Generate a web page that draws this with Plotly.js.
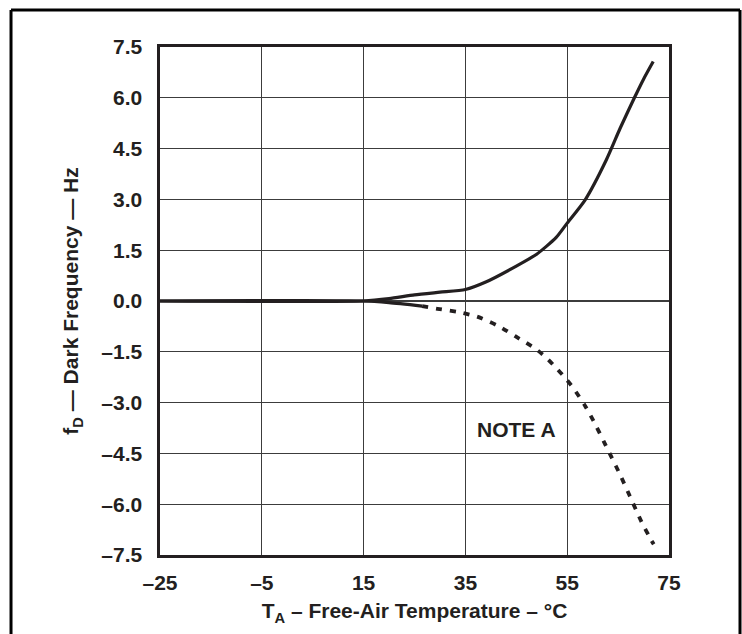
<!DOCTYPE html>
<html>
<head>
<meta charset="utf-8">
<script src="https://cdn.plot.ly/plotly-3.0.1.min.js"></script>
<style>
  html, body { margin: 0; padding: 0; background: #ffffff; }
  #chart { width: 742px; height: 634px; }
</style>
</head>
<body>
<div id="chart"></div>
<script>
// Temperature (°C) and dark frequency (Hz)
const tempUpper = [-25, 15, 20, 25, 30, 35, 39, 45, 49, 52.8, 55, 58.5, 62.7, 65.4, 68.2, 70, 71.9];
const fdUpper   = [0, 0, 0.07, 0.18, 0.26, 0.34, 0.56, 1.03, 1.38, 1.87, 2.3, 2.98, 4.17, 5.1, 6.0, 6.55, 7.07];

const tempLowerSolid = [-25, 15, 20, 26.5];
const fdLowerSolid   = [0, 0, -0.05, -0.15];

const tempLowerDash = [26.5, 29.5, 33.7, 37.3, 41.5, 44.8, 48.7, 50.7, 52.6, 54.6, 56.2, 58.5, 60.2, 62.2, 63.8, 65.4, 67.3, 69.6, 71.5, 72];
const fdLowerDash   = [-0.15, -0.23, -0.33, -0.46, -0.74, -1.04, -1.40, -1.65, -1.94, -2.27, -2.57, -3.09, -3.55, -4.15, -4.64, -5.13, -5.76, -6.52, -7.06, -7.18];

const xTickVals = [-25, -5, 15, 35, 55, 75];
const xTickText = ['–25', '–5', '15', '35', '55', '75'];
const yTickVals = [7.5, 6.0, 4.5, 3.0, 1.5, 0.0, -1.5, -3.0, -4.5, -6.0, -7.5];
const yTickText = ['7.5', '6.0', '4.5', '3.0', '1.5', '0.0', '–1.5', '–3.0', '–4.5', '–6.0', '–7.5'];

const noteText = 'NOTE A';
const noteX = 45;
const noteY = -3.78;

const ink = '#231f20';
const fontFam = '"Liberation Sans", Arial, Helvetica, sans-serif';

const traces = [
  { x: tempLowerSolid, y: fdLowerSolid, mode: 'lines', line: { color: ink, width: 3.2, shape: 'spline', smoothing: 0.6 }, hoverinfo: 'skip' },
  { x: tempLowerDash, y: fdLowerDash, mode: 'lines', line: { color: ink, width: 3.8, dash: '6px,8px', shape: 'spline', smoothing: 0.6 }, hoverinfo: 'skip' },
  { x: tempUpper, y: fdUpper, mode: 'lines', line: { color: ink, width: 3.2, shape: 'spline', smoothing: 0.6 }, hoverinfo: 'skip' }
];

const axisCommon = {
  showgrid: true, gridcolor: '#3c3c3c', gridwidth: 1.2,
  showline: true, mirror: true, linecolor: ink, linewidth: 2.6,
  zeroline: false, fixedrange: true,
  ticks: 'outside', tickcolor: 'rgba(0,0,0,0)',
  tickfont: { family: fontFam, size: 21, color: ink, weight: 'bold' },
  tickmode: 'array'
};

const layout = {
  width: 742, height: 634,
  margin: { l: 160, r: 73, t: 47, b: 79 },
  paper_bgcolor: '#ffffff', plot_bgcolor: '#ffffff',
  showlegend: false,
  xaxis: Object.assign({}, axisCommon, {
    range: [-25, 75], tickvals: xTickVals, ticktext: xTickText, ticklen: 7,
    title: { text: 'T<sub>A</sub> – Free-Air Temperature – °C', standoff: 11,
             font: { family: fontFam, size: 21, color: ink, weight: 'bold' } }
  }),
  yaxis: Object.assign({}, axisCommon, {
    range: [-7.5, 7.5], tickvals: yTickVals, ticktext: yTickText, ticklen: 11,
    title: { text: 'f<sub>D</sub> — Dark Frequency — Hz', standoff: 17,
             font: { family: fontFam, size: 21, color: ink, weight: 'bold' } }
  }),
  annotations: [
    { x: noteX, y: noteY, xref: 'x', yref: 'y', text: noteText, showarrow: false,
      font: { family: fontFam, size: 21, color: ink, weight: 'bold' } }
  ],
  shapes: [
    { type: 'line', xref: 'paper', yref: 'paper', x0: -0.2927, x1: -0.2927, y0: -0.25, y1: 1.0728, line: { color: '#000', width: 3 } },
    { type: 'line', xref: 'paper', yref: 'paper', x0: -0.2927, x1: 1.1395, y0: 1.0728, y1: 1.0728, line: { color: '#000', width: 3 } },
    { type: 'line', xref: 'paper', yref: 'paper', x0: 1.1395, x1: 1.1395, y0: -0.25, y1: 1.0728, line: { color: '#000', width: 3 } }
  ]
};

Plotly.newPlot('chart', traces, layout, { displayModeBar: false, staticPlot: true });
</script>
</body>
</html>
